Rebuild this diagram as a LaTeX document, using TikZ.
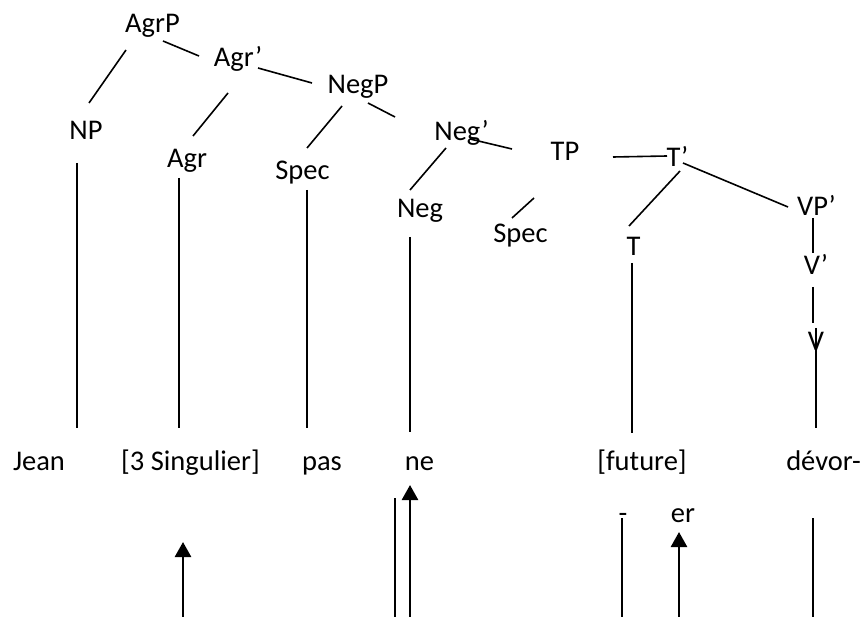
\documentclass[tikz,border=0pt]{standalone}
\usepackage{fontspec}
\setmainfont{Carlito}
\usetikzlibrary{calc,arrows.meta}
\begin{document}
\begin{tikzpicture}[x=1pt,y=-1pt,
  lbl/.style={anchor=base,inner sep=0pt,font=\fontsize{28.5pt}{33pt}\selectfont},
  br/.style={line width=1.6pt},
  up/.style={line width=2.6pt,-{Triangle[width=16pt,length=15pt]}}]
\useasboundingbox (0,0) rectangle (865,617);
% tree nodes
\node[lbl] (AgrP) at (152.5,33) {AgrP};
\node[lbl] (Agrb) at (238,67) {Agr’};
\node[lbl] (NegP) at (358,94) {NegP};
\node[lbl] (NP) at (86,140) {NP};
\node[lbl] (Agr) at (187,168) {Agr};
\node[lbl] (SpecA) at (302.5,180) {Spec};
\node[lbl] (Neg) at (420,218) {Neg};
\node[lbl] (Negb) at (461.5,141) {Neg’};
\node[lbl] (TP) at (565,161) {TP};
\node[lbl] (Tb) at (677.5,167) {T’};
\node[lbl] (SpecB) at (520.5,243) {Spec};
\node[lbl] (T) at (633.5,256) {T};
\node[lbl] (VPb) at (816.5,216) {VP’};
\node[lbl] (Vb) at (816,275) {V’};
\node[lbl] (V) at (816,351) {V};
% words
\node[lbl] (Jean) at (39,470) {Jean};
\node[lbl] (Sing) at (190.5,470) {[3 Singulier]};
\node[lbl] (pas) at (322,470) {pas};
\node[lbl] (ne) at (419.5,470) {ne};
\node[lbl] (fut) at (642,470) {[future]};
\node[lbl] (devor) at (823.5,470) {dévor-};
\node[lbl] (dash) at (623,522) {-};
\node[lbl] (er) at (683,522) {er};
% bottom free ends
\coordinate (bA) at (183,617);
\coordinate (bB) at (395,617);
\coordinate (bC) at (410,617);
\coordinate (bD) at (622,617);
\coordinate (bE) at (679,617);
\coordinate (bF) at (813,617);
% branches
\draw[br] ($(AgrP.base)+(-26.5,17)$) -- ($(NP.base)+(3,-37)$);
\draw[br] ($(AgrP.base)+(10.5,8)$) -- ($(Agrb.base)+(-39,-11)$);
\draw[br] ($(Agrb.base)+(20,1)$) -- ($(NegP.base)+(-46,-11)$);
\draw[br] ($(Agrb.base)+(-10,26)$) -- ($(Agr.base)+(6,-32)$);
\draw[br] ($(NegP.base)+(-16,12)$) -- ($(SpecA.base)+(4.5,-32)$);
\draw[br] ($(NegP.base)+(10,9)$) -- ($(Negb.base)+(-66.5,-24)$);
\draw[br] ($(Negb.base)+(-15.5,7)$) -- ($(Neg.base)+(-10,-28)$);
\draw[br] ($(Negb.base)+(8.5,-2)$) -- ($(TP.base)+(-53,-12)$);
\draw[br] ($(TP.base)+(-31,37)$) -- ($(SpecB.base)+(-8.5,-25)$);
\draw[br] ($(TP.base)+(48,-4)$) -- ($(Tb.base)+(-10.5,-11)$);
\draw[br] ($(Tb.base)+(2.5,4)$) -- ($(T.base)+(-4.5,-30)$);
\draw[br] ($(Tb.base)+(5.5,-4)$) -- ($(VPb.base)+(-28.5,-9)$);
\draw[br] ($(VPb.base)+(-3.5,2)$) -- ($(Vb.base)+(-3,-22)$);
\draw[br] ($(Vb.base)+(-3,12)$) -- ($(V.base)+(-3,-28)$);
% vertical lines to words
\draw[br] ($(NP.base)+(-9,23)$) -- ($(Jean.base)+(38,-42)$);
\draw[br] ($(Agr.base)+(-8,10)$) -- ($(Sing.base)+(-11.5,-42)$);
\draw[br] ($(SpecA.base)+(4.5,10)$) -- ($(pas.base)+(-15,-42)$);
\draw[br] ($(Neg.base)+(-10,19)$) -- ($(ne.base)+(-9.5,-38)$);
\draw[br] ($(T.base)+(-1.5,7)$) -- ($(fut.base)+(-10,-37)$);
\draw[br] ($(V.base)+(0,-23)$) -- ($(devor.base)+(-7.5,-42)$);
% bottom lines and arrows
\draw[up] (bA) -- ($(Sing.base)+(-7.5,72)$);
\draw[br] (bB) -- ($(ne.base)+(-24.5,28)$);
\draw[up] (bC) -- ($(ne.base)+(-9.5,15)$);
\draw[br] (bD) -- ($(dash.base)+(-1,-4)$);
\draw[up] (bE) -- ($(er.base)+(-4,10)$);
\draw[br] (bF) -- ($(devor.base)+(-10.5,48)$);
\end{tikzpicture}
\end{document}
